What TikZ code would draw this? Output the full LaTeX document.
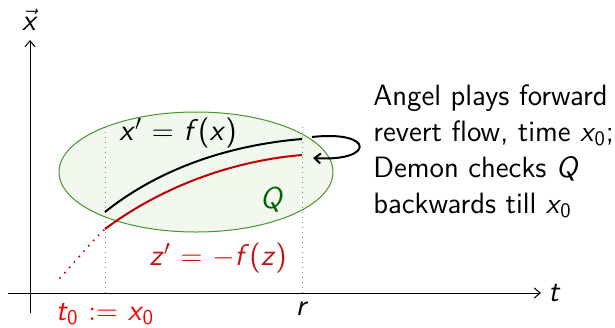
\documentclass[tikz,border=0pt]{standalone}
\usetikzlibrary{arrows.meta,shapes.geometric}
\definecolor{ellfill}{RGB}{242,248,238}
\definecolor{elldraw}{RGB}{70,150,40}
\definecolor{qgreen}{RGB}{0,100,0}
\definecolor{curvered}{RGB}{190,0,0}
\definecolor{zred}{RGB}{200,20,20}
\definecolor{tred}{RGB}{255,0,0}
\newcommand{\vi}[1]{\textit{#1}}
\newcommand{\zero}{\kern-0.5pt\textsubscript{0}}
\begin{document}
\begin{tikzpicture}[x=0.5pt,y=-0.5pt,
  font=\fontsize{15}{18}\selectfont\sffamily,
  axis/.style={line width=0.5pt,-{Straight Barb[length=3pt,width=5pt]}},
  guide/.style={gray,dotted,line width=0.5pt},
  curveln/.style={line width=1pt},
  lbl/.style={inner sep=0pt}]
\useasboundingbox (0,0) rectangle (615,327);
% axes
\coordinate (xl) at (8,293);
\coordinate (xr) at (541,293);
\coordinate (yb) at (30,313);
\coordinate (yt) at (30,40);
\draw[axis] (xl) -- (xr);
\draw[axis] (yb) -- (yt);
\node[lbl,anchor=west] (tl) at (548,293) {\vi{t}};
\node[lbl] (xv) at (30,20) {$\vec{\mbox{\vi{x}}}$};
% ellipse Q
\node[ellipse,draw=elldraw,fill=ellfill,line width=0.5pt,minimum width=137pt,minimum height=60pt,inner sep=0pt] (Qell) at (196,172) {};
% guides
\coordinate (g0t) at (105,127);
\coordinate (g0b) at (105,293);
\coordinate (g1t) at (302,127);
\coordinate (g1b) at (302,293);
\draw[guide] (g0t) -- (g0b);
\draw[guide] (g1t) -- (g1b);
% curves
\coordinate (bs) at (105,212);
\coordinate (be) at (302,139);
\coordinate (rs) at (105,229);
\coordinate (re) at (302,155);
\coordinate (rd) at (60,278);
\draw[curveln,black] (bs) .. controls (160,168) and (230,145) .. (be);
\draw[curveln,curvered] (rs) .. controls (160,188) and (230,161) .. (re);
\draw[curvered,line width=1.1pt,line cap=round,dash pattern=on 0pt off 3.6pt] (rd) .. controls (75,262) and (90,243) .. (rs);
% labels
\node[lbl] (xeq) at (178,133) {\vi{x}$'$ $=$ \vi{f}(\vi{x})};
\node[lbl,text=zred] (zeq) at (218,258) {\vi{z}$'$ $=$ $-$\vi{f}(\vi{z})};
\node[lbl,text=qgreen] (Q) at (272,200) {\vi{Q}};
\node[lbl,text=tred] (t0) at (105,314) {\vi{t}\zero{} $:=$ \vi{x}\zero};
\node[lbl] (r) at (302,309) {\vi{r}};
% loop arrow
\coordinate (la) at (312,137);
\coordinate (lb) at (313,158);
\draw[line width=1pt,-{Straight Barb[length=3pt,width=5pt]}] (la) .. controls (375,130) and (375,162) .. (lb);
% text
\node[lbl,anchor=north west,align=left,font=\fontsize{14.7}{18}\selectfont\sffamily] (txt) at (373,84) {Angel plays forward\\revert flow, time \vi{x}\zero;\\Demon checks \vi{Q}\\backwards till \vi{x}\zero};
\end{tikzpicture}
\end{document}
